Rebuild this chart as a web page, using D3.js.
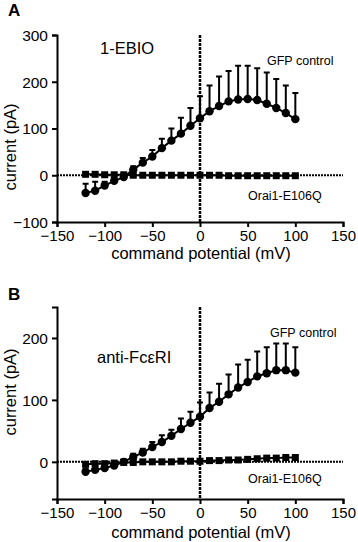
<!DOCTYPE html>
<html><head><meta charset="utf-8">
<script src="https://cdn.jsdelivr.net/npm/d3@7"></script>
<style>
body{margin:0;background:#fff;}
svg{display:block;font-family:"Liberation Sans",Arial,sans-serif;}
</style></head><body>
<svg id="chart" width="358" height="542"></svg>
<script>
const voltages = [-120,-110,-100,-90,-80,-70,-60,-50,-40,-30,-20,-10,0,10,20,30,40,50,60,70,80,90,100];
const xTicks = [-150,-100,-50,0,50,100,150];

// Panel A (1-EBIO)
const gfpA    = [-38,-33,-22,-12,-4,12,27,40,58,74,89,106,122,137,148,158,162,163,161,153,144,133,120];
const gfpAErr = [20,19,8,5,5,7,10,14,20,26,34,38,47,55,63,65,72,71,68,67,62,59,56];
const oraiA   = [2,2,1,1,1,0,0,0,0,0,0,0,0,0,0,-1,-1,-1,-1,-1,-1,-1,-1];
const yTicksA = [-100,0,100,200,300];

// Panel B (anti-FcεRI)
const gfpB    = [-16,-13,-10,-6,0,8,15,24,32,42,53,63,73,87,97,109,120,129,138,143,148,148,144];
const gfpBErr = [5,5,4,4,4,5,6,8,11,10,17,18,23,25,29,32,37,36,40,42,43,43,41];
const oraiB   = [-4,-3,-3,-2,-1,-1,0,0,0,0,1,1,1,2,2,3,3,4,5,6,6,7,7];
const yTicksB = [0,100,200];

const svg = d3.select("#chart");

function panel(cfg){
  const g = svg.append("g");
  const x = d3.scaleLinear().domain([-150,150]).range([57,343]);
  const y = d3.scaleLinear().domain(cfg.yDomain).range(cfg.yRange);
  const y0 = y(0), yBot = cfg.yRange[0], yTop = cfg.yRange[1];

  // dotted zero lines
  g.append("line").attr("x1",x(-150)).attr("x2",x(150)).attr("y1",y0).attr("y2",y0)
    .attr("stroke","#000").attr("stroke-width",2).attr("stroke-dasharray","2,1");
  g.append("line").attr("x1",x(0)).attr("x2",x(0)).attr("y1",yTop).attr("y2",yBot)
    .attr("stroke","#000").attr("stroke-width",2.5).attr("stroke-dasharray","3,1");

  // x axis
  const xa = g.append("g").attr("transform",`translate(0,${yBot})`)
    .call(d3.axisBottom(x).tickValues(xTicks).tickSize(5).tickPadding(3).tickFormat(d3.format("d")));
  // y axis
  const ya = g.append("g").attr("transform",`translate(${x(-150)},0)`)
    .call(d3.axisLeft(y).tickValues(cfg.yTicks).tickSize(5).tickPadding(4).tickFormat(d3.format("d")));
  [xa,ya].forEach(a=>{
    a.select(".domain").attr("stroke-width",2);
    a.selectAll(".tick line").attr("stroke-width",2);
    a.selectAll("text").attr("font-size",15.5).attr("fill","#000")
      .attr("font-family","'Liberation Sans',Arial,sans-serif");
  });
  xa.selectAll("text").attr("font-size",15);
  ya.selectAll("text").attr("dy","0.35em");

  // Orai1 squares + line
  const oraiData = voltages.map((v,i)=>({v, c:cfg.orai[i]}));
  g.append("path").datum(oraiData)
    .attr("d", d3.line().x(d=>x(d.v)).y(d=>y(d.c)))
    .attr("fill","none").attr("stroke","#000").attr("stroke-width",2);
  g.selectAll(".sq").data(oraiData).enter().append("rect")
    .attr("x",d=>x(d.v)-3.5).attr("y",d=>y(d.c)-3.5)
    .attr("width",7).attr("height",7).attr("fill","#000");

  // GFP control
  const gfpData = voltages.map((v,i)=>({v, c:cfg.gfp[i], e:cfg.err[i]}));
  g.selectAll(".eb").data(gfpData).enter().append("path")
    .attr("d",d=>`M${x(d.v)},${y(d.c)}V${y(d.c+d.e)}M${x(d.v)-3},${y(d.c+d.e)}H${x(d.v)+3}`)
    .attr("stroke","#000").attr("stroke-width",2).attr("fill","none");
  g.append("path").datum(gfpData)
    .attr("d", d3.line().x(d=>x(d.v)).y(d=>y(d.c)))
    .attr("fill","none").attr("stroke","#000").attr("stroke-width",2);
  g.selectAll(".ci").data(gfpData).enter().append("circle")
    .attr("cx",d=>x(d.v)).attr("cy",d=>y(d.c)).attr("r",4.2).attr("fill","#000");

  // labels
  g.append("text").attr("x",8).attr("y",cfg.letterY).text(cfg.letter)
    .attr("font-size",17).attr("font-weight","bold");
  g.append("text").attr("x",201).attr("y",cfg.xTitleY).attr("text-anchor","middle")
    .attr("font-size",16.5).text("command potential (mV)");
  g.append("text").attr("transform",`translate(16,${cfg.yTitleC}) rotate(-90)`)
    .attr("text-anchor","middle").attr("font-size",16.5).text("current (pA)");
  g.append("text").attr("x",cfg.annX).attr("y",cfg.annY).attr("font-size",16.5).text(cfg.ann);
  g.append("text").attr("x",cfg.gfpLX).attr("y",cfg.gfpLY).attr("font-size",12.5).text("GFP control");
  g.append("text").attr("x",248).attr("y",cfg.oraiLY).attr("font-size",12.5).text("Orai1-E106Q");
}

panel({yDomain:[-100,300], yRange:[222,35], yTicks:yTicksA, gfp:gfpA, err:gfpAErr, orai:oraiA,
  letter:"A", letterY:16, xTitleY:259, yTitleC:147, ann:"1-EBIO", annX:100, annY:54,
  gfpLX:267, gfpLY:65, oraiLY:200});
panel({yDomain:[-60,250], yRange:[499,307], yTicks:yTicksB, gfp:gfpB, err:gfpBErr, orai:oraiB,
  letter:"B", letterY:300, xTitleY:538, yTitleC:392, ann:"anti-Fc\u03b5RI", annX:97, annY:363,
  gfpLX:270, gfpLY:337, oraiLY:483});
</script>
</body></html>
